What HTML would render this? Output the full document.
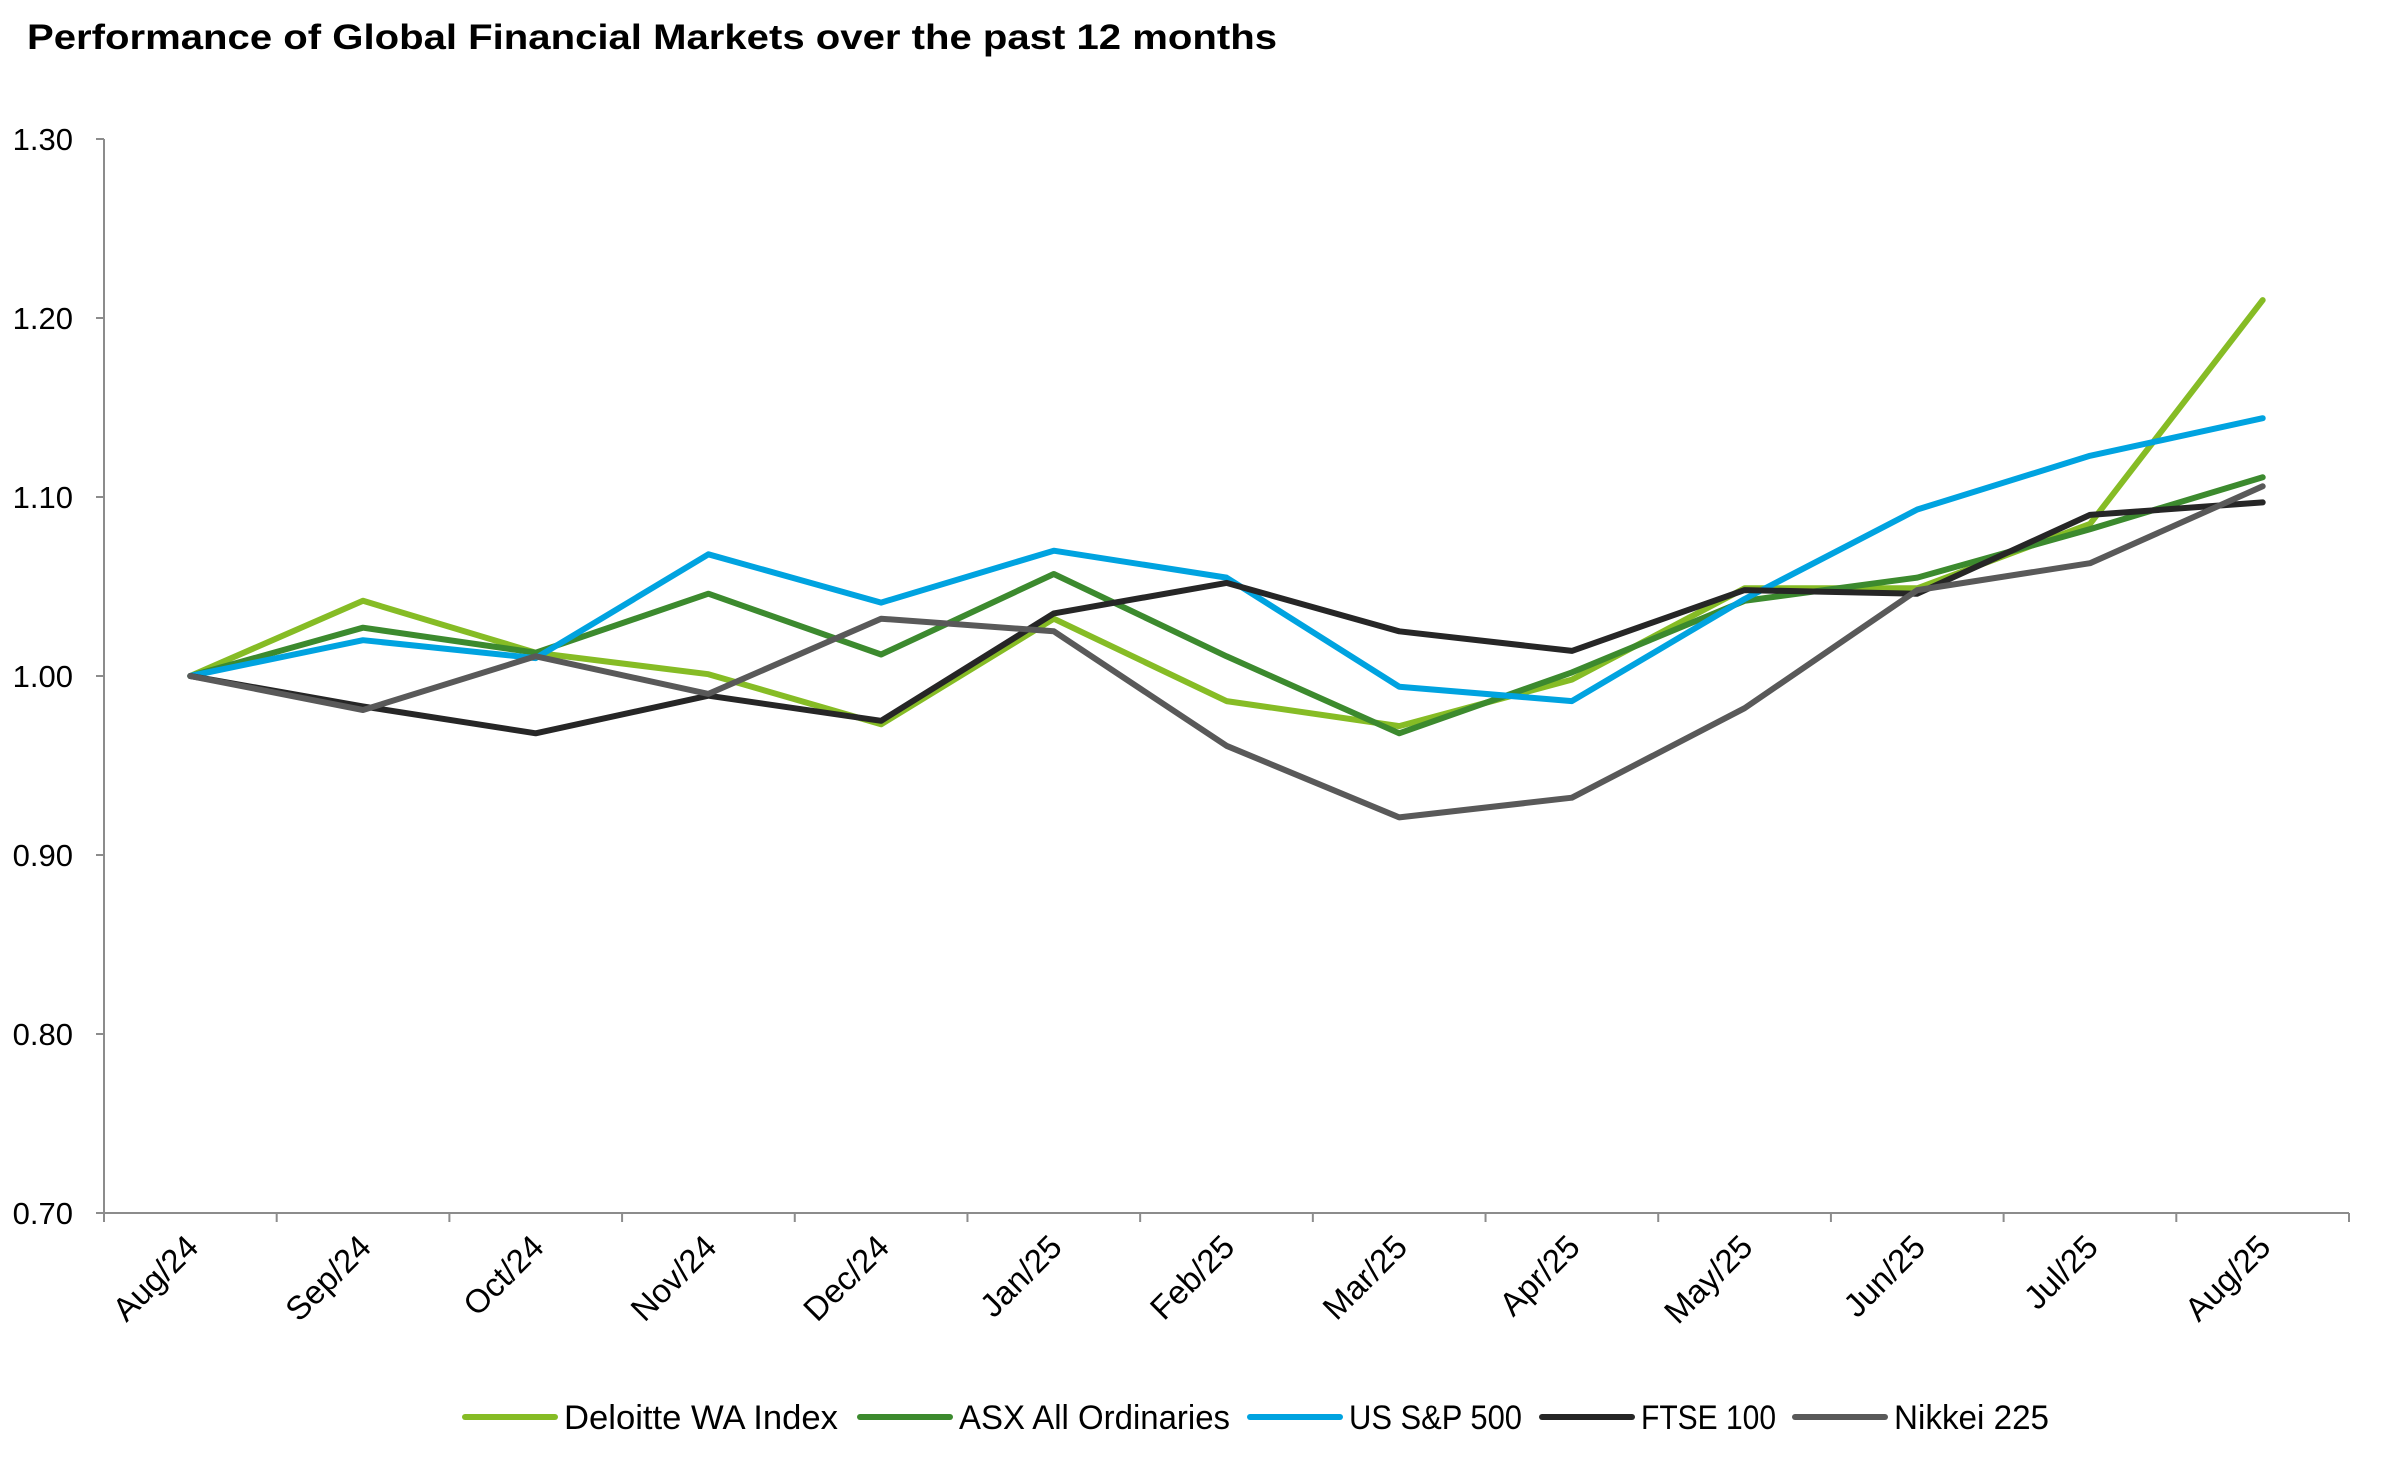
<!DOCTYPE html>
<html><head><meta charset="utf-8"><style>
html,body{margin:0;padding:0;background:#fff;}
svg{display:block;font-family:"Liberation Sans",sans-serif;}
</style></head><body>
<svg id="chart" width="2398" height="1463" viewBox="0 0 2398 1463">
<text x="27" y="49" font-size="35" font-weight="bold" fill="#000" textLength="1250" lengthAdjust="spacingAndGlyphs">Performance of Global Financial Markets over the past 12 months</text>
<g id="axes"></g>
<g id="series"></g>
<g id="legend"></g>
</svg>
<script>
const categories = ["Aug/24","Sep/24","Oct/24","Nov/24","Dec/24","Jan/25","Feb/25","Mar/25","Apr/25","May/25","Jun/25","Jul/25","Aug/25"];
const yTicks = [0.70,0.80,0.90,1.00,1.10,1.20,1.30];
const seriesNames = ["Deloitte WA Index","ASX All Ordinaries","US S&P 500","FTSE 100","Nikkei 225"];
const deloitteWA = [1.00,1.042,1.013,1.001,0.973,1.032,0.986,0.972,0.998,1.049,1.049,1.085,1.210];
const asxAllOrds = [1.00,1.027,1.013,1.046,1.012,1.057,1.011,0.968,1.002,1.042,1.055,1.082,1.111];
const sp500 = [1.00,1.020,1.010,1.068,1.041,1.070,1.055,0.994,0.986,1.043,1.093,1.123,1.144];
const ftse100 = [1.00,0.983,0.968,0.989,0.975,1.035,1.052,1.025,1.014,1.048,1.046,1.090,1.097];
const nikkei225 = [1.00,0.981,1.011,0.990,1.032,1.025,0.961,0.921,0.932,0.982,1.048,1.063,1.106];

const NS="http://www.w3.org/2000/svg";
const L=104,R=2349,T=139,B=1213,yMin=0.7,yMax=1.3;
const bw=(R-L)/categories.length;
const xPos=i=>L+bw*(i+0.5);
const yPos=v=>B-(v-yMin)/(yMax-yMin)*(B-T);
function mk(tag,attrs,parent){const e=document.createElementNS(NS,tag);for(const k in attrs)e.setAttribute(k,attrs[k]);parent.appendChild(e);return e;}
const axes=document.getElementById('axes');
let e;
e=mk('line',{x1:L,y1:T,x2:L,y2:B,stroke:'#8c8c8c','stroke-width':2},axes);


e=mk('line',{x1:L,y1:B,x2:R,y2:B,stroke:'#8c8c8c','stroke-width':2},axes);


yTicks.forEach(v=>{
  const y=yPos(v);
  let t=mk('line',{x1:L-8,y1:y,x2:L,y2:y,stroke:'#8c8c8c','stroke-width':2},axes);
  
  
  let tx=mk('text',{x:73,y:y+11,'font-size':31,'text-anchor':'end',fill:'#000'},axes);
  tx.textContent=v.toFixed(2);
  
  
});
for(let i=0;i<=categories.length;i++){
  const x=L+bw*i;
  let t=mk('line',{x1:x,y1:B,x2:x,y2:B+9,stroke:'#8c8c8c','stroke-width':2},axes);
  
  
}
categories.forEach((c,i)=>{
  const x=xPos(i)+10,y=B+36;
  let tx=mk('text',{x:x,y:y,'font-size':33,'text-anchor':'end',fill:'#000',transform:`rotate(-45 ${x} ${y})`},axes);
  tx.textContent=c;
  
  
});
const data=[deloitteWA,asxAllOrds,sp500,ftse100,nikkei225];
const colors=["#86BC25","#3C8A2E","#00A3E0","#262626","#595959"];
const slugs=["deloitte-wa-line","asx-line","sp500-line","ftse100-line","nikkei225-line"];
const sg=document.getElementById('series');
data.forEach((d,s)=>{
  const pts=d.map((v,i)=>xPos(i).toFixed(1)+','+yPos(v).toFixed(1)).join(' ');
  let p=mk('polyline',{points:pts,fill:'none',stroke:colors[s],'stroke-width':6,'stroke-linejoin':'round','stroke-linecap':'round'},sg);
  
  
});
const lg=document.getElementById('legend');
const legX=[465,860,1250,1542,1795];
const legW=[274,271,173,135,155];
seriesNames.forEach((n,s)=>{
  const x=legX[s],y=1417;
  let g=mk('g',{},lg);
  
  
  mk('line',{x1:x,y1:y,x2:x+90,y2:y,stroke:colors[s],'stroke-width':6,'stroke-linecap':'round'},g);
  let t=mk('text',{x:x+99,y:y+12,'font-size':34,fill:'#000',textLength:legW[s],lengthAdjust:'spacingAndGlyphs'},g);
  t.textContent=n;
});
</script>
</body></html>
